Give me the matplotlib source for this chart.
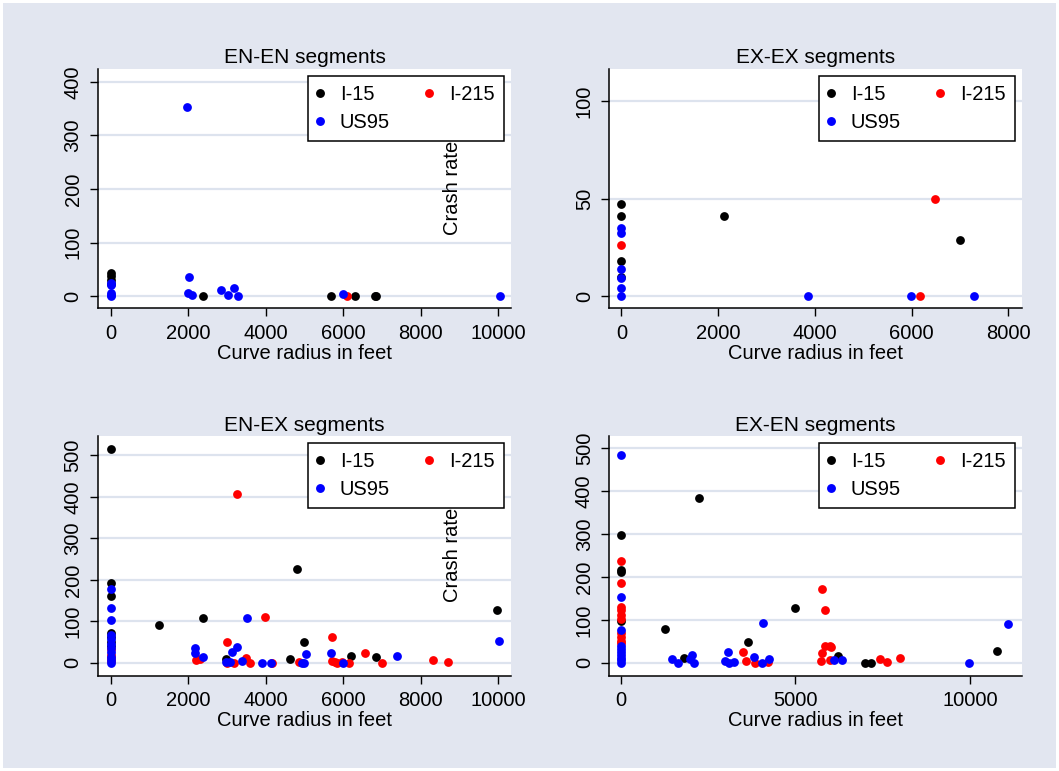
import numpy as np
import matplotlib.pyplot as plt

plt.rcParams['font.family'] = ['Liberation Sans', 'DejaVu Sans']

# colores de cada carretera
series_names = ['I-15', 'I-215', 'US95']
series_colors = ['#000000', '#FF0000', '#0000FF']

# EN-EN segments
enen_i15_x = [0, 0, 0, 0, 2370, 5680, 6300, 6810, 6850]
enen_i15_y = [44, 38, 30, 22, 0, 0, 0, 0, 0]
enen_i215_x = [6100]
enen_i215_y = [0]
enen_us95_x = [0, 0, 0, 0, 0, 1980, 2030, 2000, 2100, 2840, 3040, 3190, 3290, 6000, 10050]
enen_us95_y = [24, 20, 6, 3, 0, 354, 36, 5, 3, 12, 2, 16, 0, 4, 0]

# EX-EX segments
exex_i15_x = [0, 0, 0, 0, 2120, 7000]
exex_i15_y = [47.5, 41, 18, 10, 41, 29]
exex_i215_x = [0, 6490, 6180]
exex_i215_y = [26, 50, 0]
exex_us95_x = [0, 0, 0, 0, 0, 0, 3860, 5990, 7300]
exex_us95_y = [35, 32.5, 14, 9, 4, 0, 0, 0, 0]

# EN-EX segments
enex_i15_x = [0, 0, 0, 0, 0, 0, 0, 1260, 2380, 4810, 9970, 5000, 2980, 4630, 6190, 6850]
enex_i15_y = [516, 193, 160, 73, 62, 51, 40, 92, 109, 225, 127, 51, 9, 10, 16, 15]
enex_i215_x = [0, 0, 0, 0, 3260, 3980, 2990, 5720, 2200, 2300, 3000, 3180, 3500, 3590, 4170,
               4870, 5720, 5780, 5850, 5970, 6140, 6560, 6990, 8330, 8700]
enex_i215_y = [33, 20, 12, 5, 406, 110, 51, 62, 8, 10, 0, 0, 12, 0, 0,
               3, 4, 2, 0, 3, 0, 23, 0, 6, 2.5]
enex_us95_x = [0, 0, 0, 0, 0, 0, 0, 0, 0, 0, 0, 3510, 10020, 2170, 2170, 2390, 3120, 3250,
               2970, 3090, 3390, 3910, 4130, 4940, 4990, 5050, 5680, 6000, 7390]
enex_us95_y = [179, 133, 103, 68, 58, 45, 35, 25, 15, 6, 0, 109, 53, 35, 23, 15, 25, 37,
               3, 2, 5, 0, 0, 0, 0, 21, 23, 0, 17]

# EX-EN segments
exen_i15_x = [0, 0, 0, 0, 2230, 1250, 1810, 3640, 4990, 6220, 7000, 7170, 10790]
exen_i15_y = [298, 216, 211, 97, 385, 78, 12, 49, 127, 16, 0, 0, 28]
exen_i215_x = [0, 0, 0, 0, 0, 0, 0, 0, 0, 0, 3510, 3580, 3840, 4210, 5770, 5850, 5850,
               5980, 6010, 5760, 5730, 5980, 7430, 7620, 7990]
exen_i215_y = [237, 187, 129, 123, 111, 103, 70, 60, 52, 46, 25, 5, 0, 3, 172, 124, 39,
               39, 36, 24, 5, 6, 9, 3, 12]
exen_us95_x = [0, 0, 0, 0, 0, 0, 0, 0, 0, 0, 1450, 1620, 2040, 1970, 2100, 3060, 2990,
               3100, 3250, 3820, 4030, 4070, 4250, 6100, 6340, 9970, 11100]
exen_us95_y = [484, 153, 76, 40, 33, 26, 18, 12, 6, 0, 9, 0, 18, 8, 0, 25, 5,
               0, 2, 13, 0, 92, 10, 6, 6, 0, 90]

bg = '#E2E6F0'
grid_color = '#DDE3EE'

fig = plt.figure(figsize=(10.59, 7.71), dpi=100)
fig.patch.set_facecolor(bg)
fig.patch.set_edgecolor('white')
fig.patch.set_linewidth(4)


def panel(pos, title, xs, ys, xlim, ylim, xticks, yticks):
    ax = fig.add_axes(pos)
    ax.set_facecolor('white')
    for x, y, c in zip(xs, ys, series_colors):
        ax.scatter(x, y, s=40, color=c, linewidths=0, zorder=3)
    ax.set_xlim(xlim)
    ax.set_ylim(ylim)
    ax.set_xticks(xticks)
    ax.set_yticks(yticks)
    ax.set_yticklabels([str(t) for t in yticks], rotation=90, va='center')
    ax.tick_params(labelsize=14.5, length=6, width=1, pad=5, colors='black')
    for s in ['top', 'right']:
        ax.spines[s].set_visible(False)
    for s in ['left', 'bottom']:
        ax.spines[s].set_linewidth(1.1)
    ax.grid(axis='y', color=grid_color, linewidth=1.6, zorder=0)
    ax.set_axisbelow(True)
    ax.set_title(title, fontsize=15, pad=4)
    ax.set_xlabel('Curve radius in feet', fontsize=14.5, labelpad=1)
    # leyenda en dos columnas
    h = [plt.Line2D([], [], ls='', marker='o', ms=6.4, color=c, markeredgewidth=0)
         for c in series_colors]
    leg = ax.legend([h[0], h[2], h[1]], [series_names[0], series_names[2], series_names[1]],
                    ncol=2, loc='upper right', bbox_to_anchor=(0.983, 0.972),
                    borderaxespad=0, fancybox=False, edgecolor='black', framealpha=1,
                    fontsize=14.5, handlelength=0.3, handletextpad=0.85,
                    columnspacing=1.8, labelspacing=0.45, borderpad=0.45)
    leg.get_frame().set_linewidth(1.1)
    return ax


w = 0.390
h = 0.3106
panel([0.0925, 0.5999, w, h], 'EN-EN segments',
      [enen_i15_x, enen_i215_x, enen_us95_x], [enen_i15_y, enen_i215_y, enen_us95_y],
      (-328, 10330), (-23, 424), [0, 2000, 4000, 6000, 8000, 10000], [0, 100, 200, 300, 400])
panel([0.5751, 0.5999, w, h], 'EX-EX segments',
      [exex_i15_x, exex_i215_x, exex_us95_x], [exex_i15_y, exex_i215_y, exex_us95_y],
      (-254, 8283), (-6.4, 116.6), [0, 2000, 4000, 6000, 8000], [0, 50, 100])
panel([0.0925, 0.1236, w, h], 'EN-EX segments',
      [enex_i15_x, enex_i215_x, enex_us95_x], [enex_i15_y, enex_i215_y, enex_us95_y],
      (-328, 10330), (-31, 546), [0, 2000, 4000, 6000, 8000, 10000],
      [0, 100, 200, 300, 400, 500])
panel([0.5751, 0.1236, w, h], 'EX-EN segments',
      [exen_i15_x, exen_i215_x, exen_us95_x], [exen_i15_y, exen_i215_y, exen_us95_y],
      (-344, 11497), (-30, 528), [0, 5000, 10000], [0, 100, 200, 300, 400, 500])

# titulo del eje y mal colocado (como en el original)
fig.text(452 / 1059, 1 - 188 / 771, 'Crash rate', rotation=90, fontsize=14.5,
         ha='center', va='center')
fig.text(452 / 1059, 1 - 555 / 771, 'Crash rate', rotation=90, fontsize=14.5,
         ha='center', va='center')

fig.savefig('out.png', dpi=100, facecolor=fig.get_facecolor(), edgecolor='white')
